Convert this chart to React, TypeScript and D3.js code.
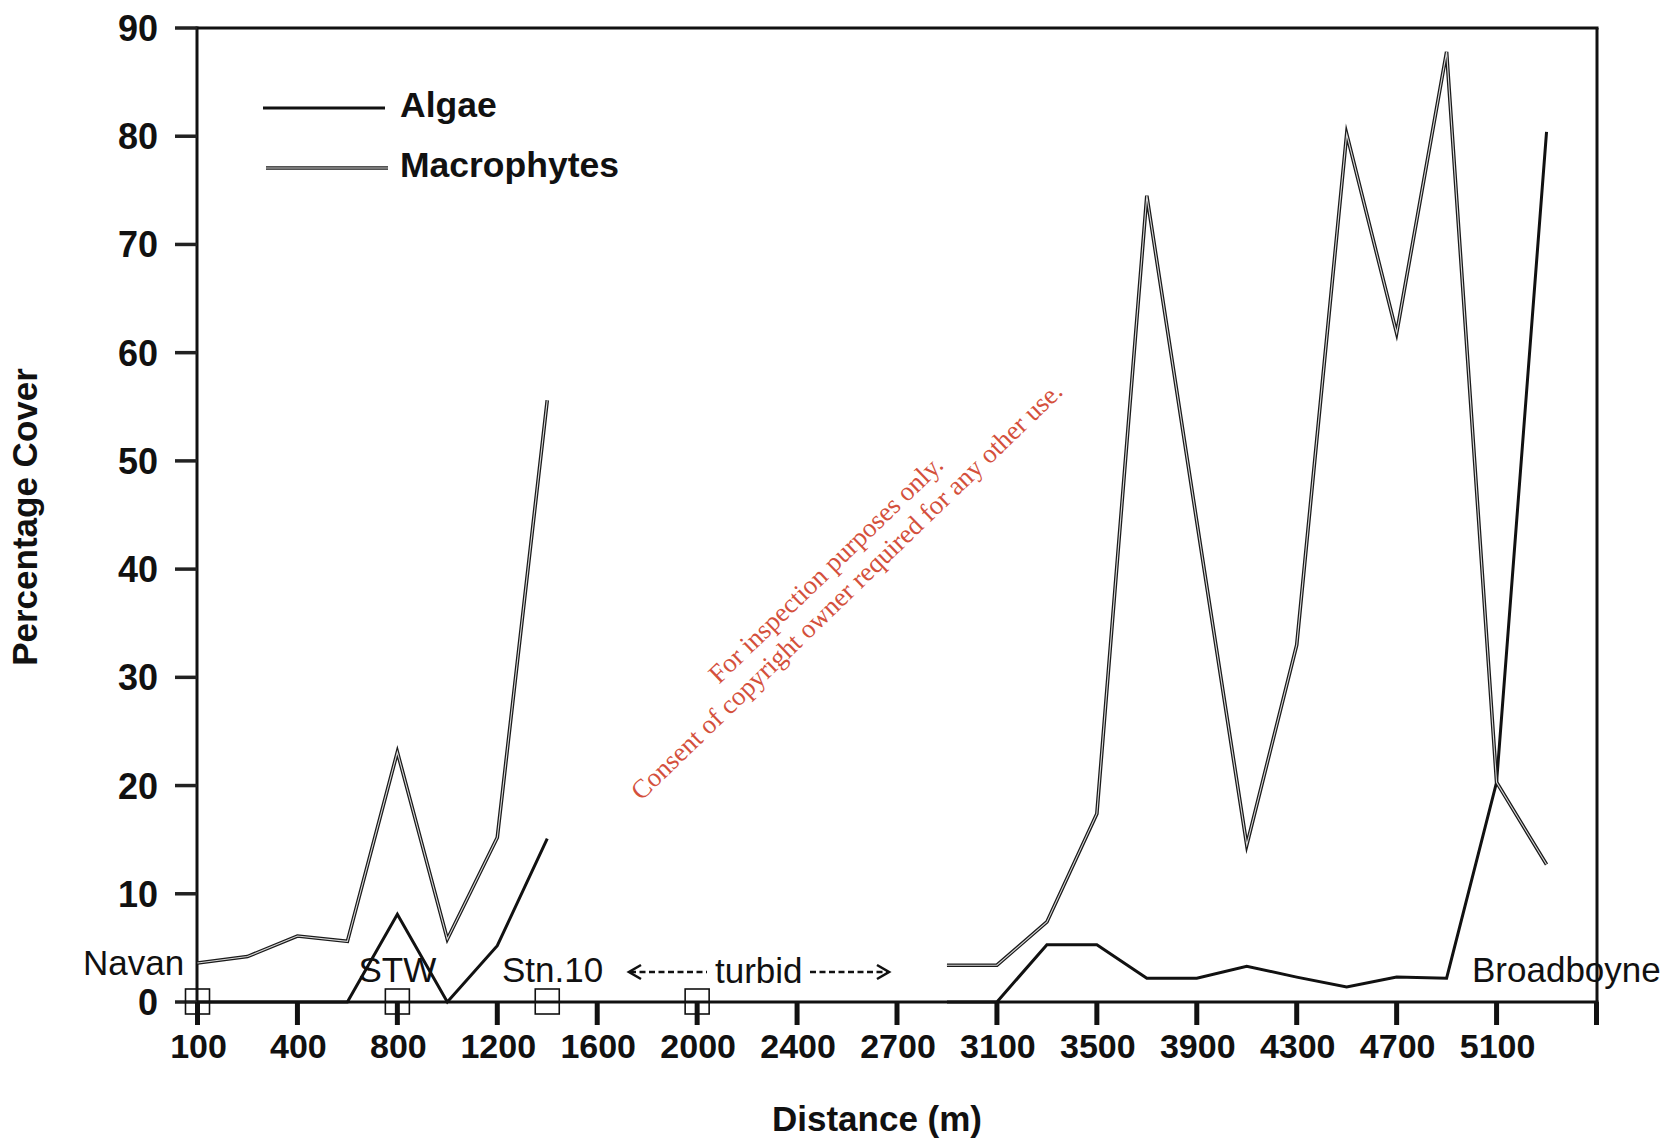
import React from 'react';
import * as d3 from 'd3';

// Distance categories (m); only every second label is shown on the axis
const categories = ["100","200","400","600","800","1000","1200","1400","1600","1800","2000","2200","2400","2500","2700","2900","3100","3300","3500","3700","3900","4100","4300","4500","4700","4900","5100","5300","5500"];
const shownLabels = ["100","400","800","1200","1600","2000","2400","2700","3100","3500","3900","4300","4700","5100"];

const algae: (number | null)[] = [0, 0, 0, 0, 8.1, 0, 5.2, 15.1, null, null, null, null, null, null, null, 0, 0, 5.3, 5.3, 2.2, 2.2, 3.3, 2.3, 1.4, 2.3, 2.2, 20.3, 80.4, null];
const macrophytes: (number | null)[] = [3.6, 4.2, 6.1, 5.6, 23.1, 5.8, 15.2, 55.6, null, null, null, null, null, null, null, 3.4, 3.4, 7.4, 17.4, 74.5, 44.4, 14.5, 33.0, 80.2, 61.8, 87.8, 20.3, 12.7, null];

const stationCats = ["100", "800", "1400", "2000"];
const stationValues = [0, 0, 0, 0];

const yTicks = [0, 10, 20, 30, 40, 50, 60, 70, 80, 90];

const FONT = "'Liberation Sans', Arial, Helvetica, sans-serif";

export default function App() {
  const W = 1667, H = 1143;
  const left = 197, right = 1597, top = 28, bottom = 1002;
  const x = d3.scalePoint<string>().domain(categories).range([left + 0.5, right - 0.5]);
  const y = d3.scaleLinear().domain([0, 90]).range([bottom, top]);

  const lineGen = d3.line<number | null>()
    .defined(d => d != null)
    .x((_, i) => x(categories[i]) as number)
    .y(d => y(d as number));

  const algaePath = lineGen(algae) || '';
  const macroPath = lineGen(macrophytes) || '';

  const tickCats = categories.filter((_, i) => i % 2 === 0);

  return (
    <svg width={W} height={H} viewBox={`0 0 ${W} ${H}`} style={{ position: 'absolute', left: 0, top: 0, background: '#fff' }}>
      <rect x={0} y={0} width={W} height={H} fill="#fff" />

      {/* Frame */}
      <line x1={left} y1={top} x2={right + 1.5} y2={top} stroke="#111" strokeWidth={3} />
      <line x1={right} y1={top} x2={right} y2={bottom} stroke="#111" strokeWidth={3} />
      <line x1={left} y1={top - 1.5} x2={left} y2={bottom} stroke="#111" strokeWidth={3} />
      <line x1={left} y1={bottom} x2={right + 1.5} y2={bottom} stroke="#111" strokeWidth={3} />

      {/* Y ticks and labels */}
      {yTicks.map(t => (
        <g key={t}>
          <line x1={left - 22} x2={left} y1={y(t)} y2={y(t)} stroke="#222" strokeWidth={3.5} />
          <text x={158} y={y(t)} dy="0.36em" textAnchor="end" fontFamily={FONT} fontWeight="bold" fontSize={36} fill="#111">{t}</text>
        </g>
      ))}

      {/* X ticks */}
      {tickCats.map(c => (
        <line key={c} x1={x(c)} x2={x(c)} y1={bottom} y2={bottom + 23} stroke="#111" strokeWidth={5} />
      ))}
      {shownLabels.map(c => (
        <text key={c} x={(x(c) as number) + 1} y={1058} textAnchor="middle" fontFamily={FONT} fontWeight="bold" fontSize={34} fill="#111">{c}</text>
      ))}

      {/* Station markers */}
      {stationCats.map((c, i) => (
        <rect key={c} x={(x(c) as number) - 12} y={y(stationValues[i]) - 13} width={24} height={25} fill="none" stroke="#111" strokeWidth={1.6} />
      ))}

      {/* Series */}
      <path d={algaePath} fill="none" stroke="#111" strokeWidth={3} strokeLinejoin="miter" strokeMiterlimit={6} />
      <path d={macroPath} fill="none" stroke="#1a1a1a" strokeWidth={3.6} strokeLinejoin="miter" strokeMiterlimit={6} />
      <path d={macroPath} fill="none" stroke="#d8d8d8" strokeWidth={1.1} strokeLinejoin="miter" strokeMiterlimit={6} />

      {/* Legend */}
      <line x1={263} x2={385} y1={108} y2={108} stroke="#111" strokeWidth={3} />
      <text x={400} y={117} fontFamily={FONT} fontWeight="bold" fontSize={35.5} fill="#111">Algae</text>
      <line x1={266} x2={388} y1={168} y2={168} stroke="#1a1a1a" strokeWidth={3.6} />
      <line x1={266} x2={388} y1={168} y2={168} stroke="#d8d8d8" strokeWidth={1.1} />
      <text x={400} y={177} fontFamily={FONT} fontWeight="bold" fontSize={35.5} fill="#111">Macrophytes</text>

      {/* Site annotations */}
      <text x={83} y={975} fontFamily={FONT} fontSize={35} fill="#111">Navan</text>
      <text x={x("800") as number} y={982} textAnchor="middle" fontFamily={FONT} fontSize={35} fill="#111">STW</text>
      <text x={502} y={982} fontFamily={FONT} fontSize={35} fill="#111">Stn.10</text>
      <text x={715} y={983} fontFamily={FONT} fontSize={35} fill="#111">turbid</text>
      <text x={1472} y={982} fontFamily={FONT} fontSize={35} fill="#111">Broadboyne</text>

      {/* turbid arrows */}
      <line x1={630} x2={707} y1={972} y2={972} stroke="#111" strokeWidth={2.4} strokeDasharray="6 3.5" />
      <polyline points="641,965 629,972 641,979" fill="none" stroke="#111" strokeWidth={2.6} />
      <line x1={810} x2={888} y1={972} y2={972} stroke="#111" strokeWidth={2.4} strokeDasharray="6 3.5" />
      <polyline points="877,965 889,972 877,979" fill="none" stroke="#111" strokeWidth={2.6} />

      {/* Axis titles */}
      <text x={877} y={1131} textAnchor="middle" fontFamily={FONT} fontWeight="bold" fontSize={35} fill="#111">Distance (m)</text>
      <text transform="translate(37,517) rotate(-90)" textAnchor="middle" fontFamily={FONT} fontWeight="bold" fontSize={35} fill="#111">Percentage Cover</text>

      {/* Watermark */}
      <g transform="translate(836,580) rotate(-44)" fontFamily="'Liberation Serif', 'Times New Roman', serif" fontSize={26.7} fill="#d4503c" textAnchor="middle">
        <text x={0} y={-6}>For inspection purposes only.</text>
        <text x={0} y={24}>Consent of copyright owner required for any other use.</text>
      </g>
    </svg>
  );
}
